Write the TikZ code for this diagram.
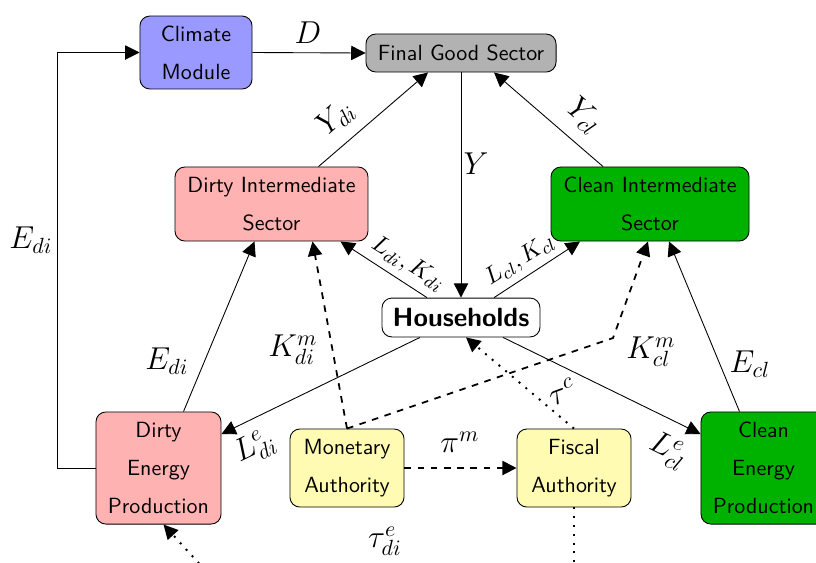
\documentclass[tikz,border=0pt]{standalone}
\usetikzlibrary{arrows.meta,calc}
\begin{document}
\begin{tikzpicture}[x=0.455pt,y=-0.455pt,
  box/.style={draw=black, rounded corners=4.5pt, inner sep=0pt, align=center, font=\sffamily},
  lbl/.style={inner sep=0pt, font=\Large},
  slbl/.style={inner sep=0pt, font=\fontsize{11}{13}\selectfont},
  conn/.style={-{Triangle[length=6.5pt,width=6.5pt]}},
  dconn/.style={conn, thick, dashed},
  tconn/.style={line width=0.9pt, dash pattern=on 0.9pt off 3.1pt}
]
\useasboundingbox (0,0) rectangle (816,562);
\clip (0,0) rectangle (816,562);

% nodes
\node[box, fill=blue!40, minimum width=51pt, minimum height=33.2pt] (cm) at (196,52.5) {Climate\\[5.3pt]Module};
\node[box, fill=gray!60, minimum width=86.5pt, minimum height=17.3pt] (fg) at (461,53) {Final Good Sector};
\node[box, fill=red!30, minimum width=87.8pt, minimum height=33.7pt] (di) at (271.5,204) {Dirty Intermediate\\[5.3pt]Sector};
\node[box, fill=green!70!black, minimum width=90.1pt, minimum height=33.7pt] (ci) at (650,204) {Clean Intermediate\\[5.3pt]Sector};
\node[box, fill=white, minimum width=71.9pt, minimum height=17.7pt, font=\sffamily\bfseries\large] (hh) at (461,317.5) {Households};
\node[box, fill=red!30, minimum width=56.9pt, minimum height=51pt] (de) at (158.5,468) {Dirty\\[5.3pt]Energy\\[5.3pt]Production};
\node[box, fill=yellow!30, minimum width=51.9pt, minimum height=35.5pt] (ma) at (347,468) {Monetary\\[5.3pt]Authority};
\node[box, fill=yellow!30, minimum width=51.9pt, minimum height=35.5pt] (fa) at (574,468) {Fiscal\\[5.3pt]Authority};
\node[box, fill=green!70!black, minimum width=56.9pt, minimum height=51pt] (ce) at (763.5,468) {Clean\\[5.3pt]Energy\\[5.3pt]Production};

% connectors
\draw[conn] (de.west) -- ++(-38,0) |- (cm.west) node[lbl] at (31,240) {$E_{di}$};
\draw[conn] (cm.east) -- (fg.west) node[lbl] at (308,33) {$D$};
\draw[conn] ($(di.north)+(47,0)$) -- ($(fg.south)+(-33,0)$) node[lbl,rotate=41] at (336,118) {$Y_{di}$};
\draw[conn] ($(ci.north)+(-47,0)$) -- ($(fg.south)+(33,0)$) node[lbl,rotate=-41] at (584,116) {$Y_{cl}$};
\draw[conn] (fg.south) -- (hh.north) node[lbl] at (476,164) {$Y$};
\draw[conn] ($(hh.north)+(-34,0)$) -- ($(di.south)+(69,0)$) node[slbl,rotate=-32] at (408,264) {$L_{di}, K_{di}$};
\draw[conn] ($(hh.north)+(33,0)$) -- ($(ci.south)+(-70,0)$) node[slbl,rotate=32] at (520,260) {$L_{cl}, K_{cl}$};
\draw[conn] ($(hh.south)+(-41,0)$) -- ($(de.east)+(0,-34)$) node[lbl,rotate=26] at (255,447) {$L^e_{di}$};
\draw[conn] ($(hh.south)+(42,0)$) -- ($(ce.west)+(0,-34)$) node[lbl,rotate=-26] at (668,451) {$L^e_{cl}$};
\draw[conn] ($(de.north)+(25,0)$) -- ($(di.south)+(-17,0)$) node[lbl] at (167,361) {$E_{di}$};
\draw[conn] ($(ce.north)+(-24,0)$) -- ($(ci.south)+(19,0)$) node[lbl] at (750,364) {$E_{cl}$};
\draw[dconn] (ma.north) -- ($(di.south)+(41,0)$) node[lbl] at (293,350) {$K^m_{di}$};
\coordinate (kc) at (613,338);
\draw[dconn] (ma.north) -- (kc) -- ($(ci.south)+(-2,0)$) node[lbl] at (651,352) {$K^m_{cl}$};
\draw[dconn] (ma.east) -- (fa.west) node[lbl] at (460,442) {$\pi^m$};
\draw[tconn, conn] (fa.north) -- ($(hh.south)+(5,0)$) node[lbl,rotate=20] at (562,392) {$\tau^c$};
\coordinate (fb) at (574,570);
\draw[tconn] (fa.south) -- (fb);
\coordinate (db) at (205,570);
\draw[tconn, conn] (db) -- ($(de.south)+(5,0)$);
\node[lbl] (taue) at (385,541) {$\tau^e_{di}$};
\end{tikzpicture}
\end{document}
